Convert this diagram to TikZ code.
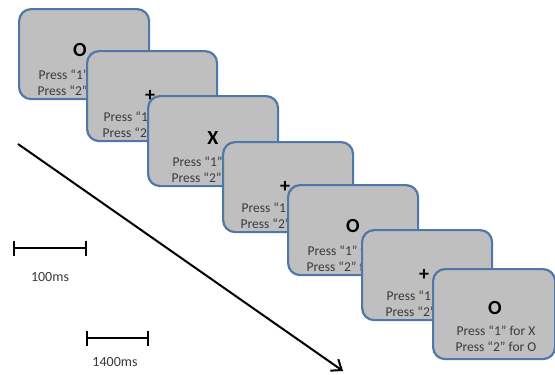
\documentclass[tikz,border=0pt]{standalone}
\usepackage{fontspec}
\setmainfont{Carlito}
\usetikzlibrary{arrows.meta}
\definecolor{boxfill}{HTML}{BFBFBF}
\definecolor{boxedge}{HTML}{4F78A8}
\definecolor{txt}{HTML}{3A3A3A}
\begin{document}
\begin{tikzpicture}[x=1pt,y=-1pt,
  screen/.style={draw=boxedge, fill=boxfill, line width=2.2pt, rounded corners=12pt,
    minimum height=90pt, anchor=north west, inner sep=0pt},
  sym/.style={font=\fontsize{20}{20}\selectfont\bfseries, inner sep=0pt},
  presstxt/.style={font=\fontsize{13.5}{16}\selectfont, text=txt, align=center, inner sep=0pt},
  mslabel/.style={font=\fontsize{14}{16}\selectfont, text=txt, inner sep=0pt},
  scalebar/.style={line width=2.2pt, {Bar[width=15pt,line width=2.2pt]}-{Bar[width=15pt,line width=2.2pt]}},
  timearrow/.style={line width=2pt, -{Straight Barb[length=9pt,width=14pt,line width=2pt]}}]
\useasboundingbox (0,0) rectangle (555,375);
\foreach \n/\x/\y/\w/\s/\sx/\dy/\tx/\ty in {
    1/18/8/130/O/62/42/60/75,
    2/86/50/130/+/64/45.5/57/75,
    3/147/95/130/X/66/43/65/75,
    4/222/141/130/+/63/45.5/59/75,
    5/287/184/130/O/66/42/60/75,
    6/361/229/130/+/63/45.5/65/75,
    7/432/268/122/O/63/40.5/64/71}{
  \node[screen, minimum width=\w pt] (s\n) at (\x,\y) {};
  \node[sym] (m\n) at (\x+\sx,\y+\dy) {\s};
  \node[presstxt] (p\n) at (\x+\tx,\y+\ty) {Press “1” for X\\Press “2” for O};
}
\coordinate (a1) at (18,144);
\coordinate (a2) at (343,371);
\draw[timearrow] (a1) -- (a2);
\coordinate (b1) at (13,248);
\coordinate (b2) at (87,248);
\draw[scalebar] (b1) -- (b2);
\node[mslabel] (l1) at (50,277) {100ms};
\coordinate (c1) at (86,338);
\coordinate (c2) at (149,338);
\draw[scalebar] (c1) -- (c2);
\node[mslabel] (l2) at (115,362) {1400ms};
\end{tikzpicture}
\end{document}
